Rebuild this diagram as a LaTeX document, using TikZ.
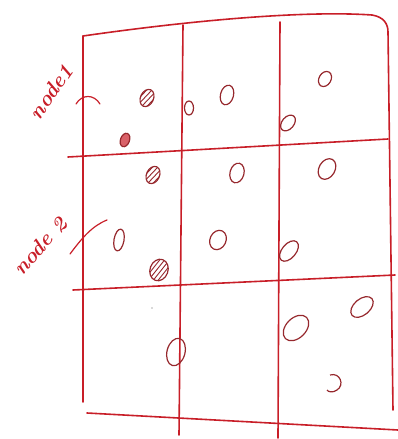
\documentclass[tikz,border=0pt]{standalone}
\usetikzlibrary{shapes.geometric}
\definecolor{pen}{RGB}{200,30,40}
\definecolor{ink}{RGB}{150,40,45}
\tikzset{
  gridline/.style={pen, line width=1.6pt, line cap=round},
  dotc/.style={ink, line width=1.2pt},
  lbl/.style={pen, font=\fontsize{21}{21}\selectfont\bfseries\itshape, inner sep=0pt},
}
\newcommand{\hatchell}[4]{% x y rx ry
  \begin{scope}
    \clip (#1,#2) ellipse [x radius=#3, y radius=#4];
    \foreach \d in {-6,-2,2,6} {\draw[dotc, line width=0.9pt] (#1+\d-4,#2+12) -- (#1+\d+4,#2-12);}
  \end{scope}
  \draw[dotc] (#1,#2) ellipse [x radius=#3, y radius=#4];
}
\begin{document}
\begin{tikzpicture}[x=1pt,y=-1pt]
\useasboundingbox (0,0) rectangle (398,439);
% outer frame
\draw[gridline] (83,36) .. controls (180,22) and (300,10) .. (372,15) .. controls (384,17) and (388,24) .. (388,32) -- (393,410);
\draw[gridline] (83,36) -- (83,402);
\draw[gridline] (183,25) -- (179,435);
\draw[gridline] (280,22) -- (278,438);
\draw[gridline] (68,157) -- (388,139);
\draw[gridline] (73,290) -- (395,275);
\draw[gridline] (87,413) -- (398,430);
% row 1
\begin{scope}[rotate around={-25:(147,98)}]\hatchell{147}{98}{6.5}{9}\end{scope}
\draw[dotc, fill=pen!70, rotate around={-20:(125,140)}] (125,140) ellipse [x radius=4.5, y radius=7];
\draw[dotc] (189,108) ellipse [x radius=4.5, y radius=7];
\draw[dotc, rotate around={-15:(227,95)}] (227,95) ellipse [x radius=6.5, y radius=10];
\draw[dotc, rotate around={-30:(325,79)}] (325,79) ellipse [x radius=6, y radius=8];
\draw[dotc, rotate around={-40:(288,123)}] (288,123) ellipse [x radius=6, y radius=9];
% row 2
\begin{scope}[rotate around={-25:(153,175)}]\hatchell{153}{175}{6.5}{9}\end{scope}
\draw[dotc, rotate around={-15:(237,173)}] (237,173) ellipse [x radius=7, y radius=10];
\draw[dotc, rotate around={-30:(327,169)}] (327,169) ellipse [x radius=8, y radius=11];
\draw[dotc, rotate around={-10:(119,240)}] (119,240) ellipse [x radius=5, y radius=11];
\begin{scope}[rotate around={-20:(159,270)}]\hatchell{159}{270}{9}{11}\end{scope}
\draw[dotc, rotate around={-25:(218,240)}] (218,240) ellipse [x radius=8, y radius=10];
\draw[dotc, rotate around={-40:(289,251)}] (289,251) ellipse [x radius=7, y radius=12];
% row 3
\draw[dotc, rotate around={-15:(176,352)}] (176,352) ellipse [x radius=9, y radius=14];
\draw[dotc, rotate around={-45:(296,328)}] (296,328) ellipse [x radius=10, y radius=15];
\draw[dotc, rotate around={-50:(362,307)}] (362,307) ellipse [x radius=8, y radius=13];
\draw[dotc] (330,375) .. controls (340,372) and (345,385) .. (337,390) .. controls (333,393) and (328,392) .. (327,390);
\fill[gray!60] (152,308) circle (0.8);
% labels
\node[lbl, rotate=55] (n1) at (51,92) {node1};
\node[lbl, rotate=48] (n2) at (40,246) {node 2};
\coordinate (t1a) at (76,104);
\coordinate (t1b) at (100,104);
\draw[gridline, line width=1.2pt] (t1a) .. controls (82,94) and (94,94) .. (t1b);
\coordinate (t2a) at (70,254);
\coordinate (t2b) at (107,220);
\draw[gridline, line width=1.2pt] (t2a) .. controls (82,238) and (92,226) .. (t2b);
\end{tikzpicture}
\end{document}
